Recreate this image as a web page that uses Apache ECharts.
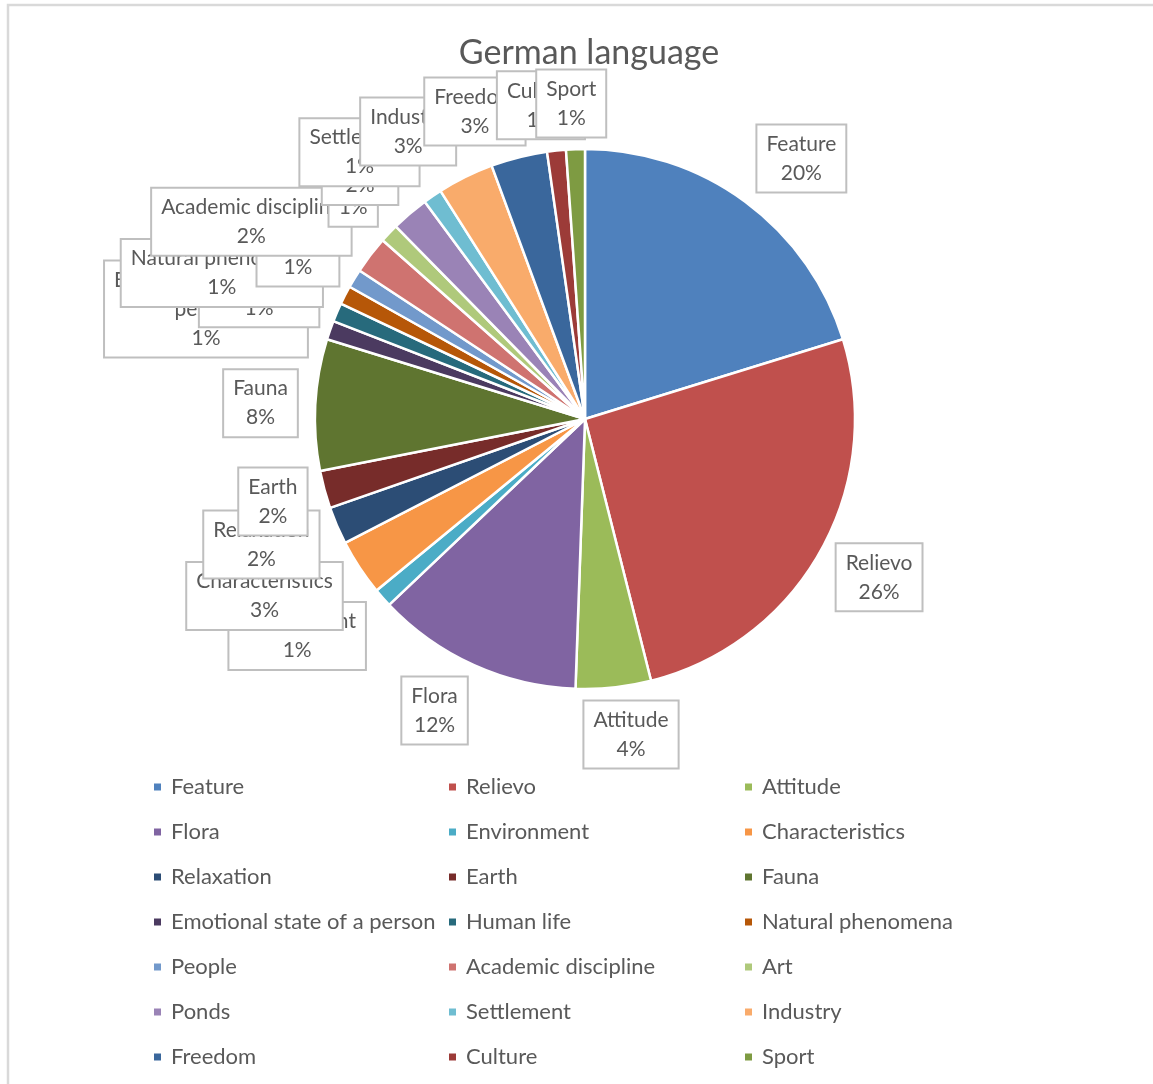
<!DOCTYPE html>
<html>
<head>
<meta charset="utf-8">
<title>German language</title>
<script src="https://cdn.jsdelivr.net/npm/echarts@6/dist/echarts.min.js"></script>
<style>
  html, body { margin: 0; padding: 0; background: #ffffff; }
  #chart { width: 1153px; height: 1084px; }
</style>
</head>
<body>
<div id="chart"></div>
<script>
// Thematic groups of the German-language units and how many fall in each
const categories = [
  'Feature', 'Relievo', 'Attitude',
  'Flora', 'Environment', 'Characteristics',
  'Relaxation', 'Earth', 'Fauna',
  'Emotional state of a person', 'Human life', 'Natural phenomena',
  'People', 'Academic discipline', 'Art',
  'Ponds', 'Settlement', 'Industry',
  'Freedom', 'Culture', 'Sport'
];
const counts = [
  18, 23, 4,
  11, 1, 3,
  2, 2, 7,
  1, 1, 1,
  1, 2, 1,
  2, 1, 3,
  3, 1, 1
];

// Office-style slice palette
const colors = [
  '#4F81BD', '#C0504D', '#9BBB59',
  '#8064A2', '#4BACC6', '#F79646',
  '#2C4D75', '#772C2A', '#5F7530',
  '#4B3A60', '#276A7C', '#B65708',
  '#7299CB', '#CF7370', '#AFC97B',
  '#9A83B6', '#6FBDD1', '#F9AB6B',
  '#3A679C', '#9C3B38', '#7E9B42'
];

// Where each data-label box sits: [angle clockwise from 12 o'clock (deg), distance from pie centre (px)]
const labelSpots = [
  [39.7, 338.7], [118.3, 334.0], [171.7, 318.8],
  [207.3, 328.0], [233.0, 360.4], [241.1, 366.1],
  [248.8, 347.1], [255.2, 322.8], [272.8, 324.9],
  [286.2, 394.7], [291.1, 349.3], [291.9, 391.4],
  [300.1, 331.8], [300.6, 387.6], [314.3, 323.9],
  [317.8, 334.9], [319.8, 349.4], [328.4, 337.5],
  [340.3, 326.6], [352.0, 316.8], [357.5, 315.9]
];

const PIE_CENTER = [585, 419];
const PIE_RADIUS = 270;
const FONT = 'Lato, "Open Sans", "Noto Sans", sans-serif';
const TEXT_COLOR = '#595959';

const total = counts.reduce((a, b) => a + b, 0);

// Break long category names onto a second line, like a fixed-width label box would
function wrapName(name, limit) {
  if (name.length <= limit) return name;
  const cut = name.lastIndexOf(' ', limit);
  if (cut <= 0) return name;
  return name.slice(0, cut) + '\n' + name.slice(cut + 1);
}

const chart = echarts.init(document.getElementById('chart'), null, { renderer: 'canvas' });

// Legend laid out as three columns, filled row by row
const legendColumns = [0, 1, 2].map(c => categories.filter((_, i) => i % 3 === c));
const legendLeft = [147, 442, 738];

const option = {
  animation: false,
  color: colors,
  title: {
    text: 'German language',
    left: 584,
    textAlign: 'center',
    top: 31,
    textStyle: { fontFamily: FONT, fontSize: 34, fontWeight: 'normal', color: TEXT_COLOR }
  },
  graphic: [{
    type: 'rect',
    silent: true,
    shape: { x: 8, y: 5, width: 1400, height: 1400 },
    style: { fill: 'none', stroke: '#d9d9d9', lineWidth: 2.5 }
  }],
  legend: legendColumns.map((names, c) => ({
    data: names,
    orient: 'vertical',
    left: legendLeft[c],
    top: 770,
    icon: 'rect',
    itemWidth: 9,
    itemHeight: 9,
    itemGap: 21,
    selectedMode: false,
    textStyle: { fontFamily: FONT, fontSize: 22, color: TEXT_COLOR, lineHeight: 24, padding: [0, 0, 0, 4] }
  })),
  series: [{
    type: 'pie',
    center: PIE_CENTER,
    radius: PIE_RADIUS,
    startAngle: 90,
    clockwise: true,
    avoidLabelOverlap: false,
    emphasis: { disabled: true },
    itemStyle: { borderColor: '#ffffff', borderWidth: 2.5 },
    label: {
      show: true,
      position: 'outside',
      formatter: p => wrapName(p.name, 20) + '\n' + Math.round(p.value / total * 100) + '%',
      fontFamily: FONT,
      fontSize: 21,
      lineHeight: 29,
      color: TEXT_COLOR,
      align: 'center',
      backgroundColor: '#ffffff',
      borderColor: '#bfbfbf',
      borderWidth: 2,
      padding: [4, 9, 4, 9]
    },
    labelLine: { show: false },
    labelLayout: p => {
      const spot = labelSpots[p.dataIndex];
      const a = spot[0] * Math.PI / 180;
      return {
        x: PIE_CENTER[0] + spot[1] * Math.sin(a),
        y: PIE_CENTER[1] - spot[1] * Math.cos(a),
        align: 'center',
        verticalAlign: 'middle'
      };
    },
    data: categories.map((name, i) => ({ name: name, value: counts[i] }))
  }]
};

chart.setOption(option);
</script>
</body>
</html>
